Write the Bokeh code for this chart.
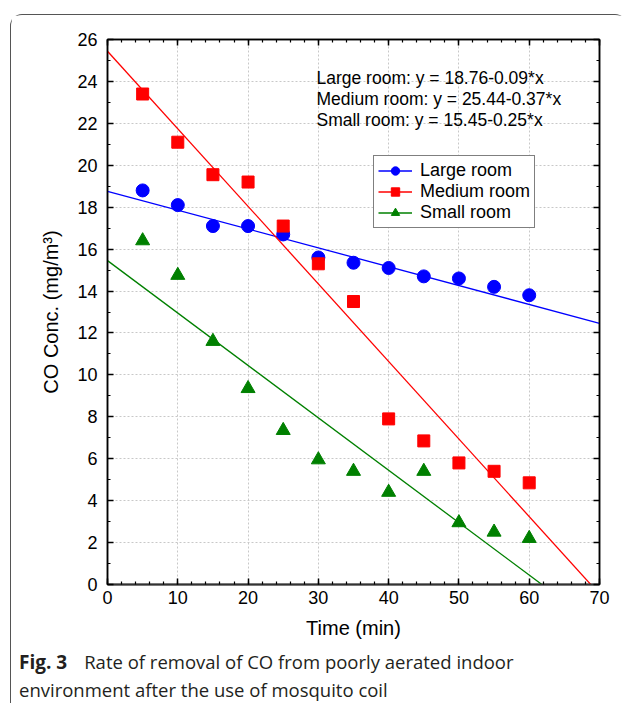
from bokeh.plotting import figure
from bokeh.layouts import column
from bokeh.models import (Range1d, LinearAxis, SingleIntervalTicker, Legend, LegendItem, Label, Div)
from bokeh.embed import file_html
from bokeh.resources import INLINE

# ---- data ----
time_min = [5, 10, 15, 20, 25, 30, 35, 40, 45, 50, 55, 60]
large_room = [18.8, 18.1, 17.1, 17.1, 16.7, 15.6, 15.35, 15.1, 14.7, 14.6, 14.2, 13.8]
medium_room = [23.4, 21.1, 19.55, 19.2, 17.1, 15.3, 13.5, 7.9, 6.85, 5.8, 5.4, 4.85]
small_room = [16.4, 14.75, 11.6, 9.35, 7.35, 5.95, 5.4, 4.4, 5.4, 2.95, 2.5, 2.2]

series_names = ["Large room", "Medium room", "Small room"]
intercepts = [18.76, 25.44, 15.45]
slopes = [-0.09, -0.37, -0.25]
equation_texts = ["Large room: y = 18.76-0.09*x",
                  "Medium room: y = 25.44-0.37*x",
                  "Small room: y = 15.45-0.25*x"]
fit_x = [0, 70]
x_ticks_step = 10
y_ticks_step = 2

caption_bold = "Fig. 3"
caption_line1 = "Rate of removal of CO from poorly aerated indoor"
caption_line2 = "environment after the use of mosquito coil"

colors = ["#0000ff", "#ff0000", "#008000"]
markers = ["circle", "square", "triangle"]
sizes = [13, 12, 14]

FONT = "Liberation Sans"
W = 616

p = figure(width=W, height=633, output_backend="svg", toolbar_location=None,
           x_range=Range1d(0, 70), y_range=Range1d(0, 26),
           min_border_left=96, min_border_right=28, min_border_top=24, min_border_bottom=64)
p.background_fill_color = "white"
p.border_fill_color = "white"
p.outline_line_color = "black"
p.outline_line_width = 1.5

xt = SingleIntervalTicker(interval=x_ticks_step, num_minor_ticks=5)
yt = SingleIntervalTicker(interval=y_ticks_step, num_minor_ticks=2)
p.xaxis.ticker = xt
p.yaxis.ticker = yt
p.xgrid.ticker = xt
p.ygrid.ticker = yt

for ax in (p.xaxis[0], p.yaxis[0]):
    ax.major_tick_in = 6
    ax.major_tick_out = 0
    ax.minor_tick_in = 3
    ax.minor_tick_out = 0
    ax.axis_line_color = "black"
    ax.axis_line_width = 1.5
    ax.major_tick_line_color = "black"
    ax.major_tick_line_width = 1.5
    ax.minor_tick_line_color = "black"
    ax.minor_tick_line_width = 1.2
    ax.major_label_text_font = FONT
    ax.major_label_text_font_size = "18px"
    ax.major_label_text_color = "black"
    ax.axis_label_text_font = FONT
    ax.axis_label_text_font_size = "20px"
    ax.axis_label_text_font_style = "normal"
    ax.axis_label_text_color = "black"

p.xaxis.axis_label = "Time (min)"
p.yaxis.axis_label = "CO Conc. (mg/m³)"
p.xaxis.major_label_standoff = 6
p.yaxis.major_label_standoff = 10
p.xaxis.axis_label_standoff = 10
p.yaxis.axis_label_standoff = 12
p.xaxis.axis_line_color = "#333333"
p.xaxis.axis_line_width = 2

for loc, ticker in (("above", SingleIntervalTicker(interval=x_ticks_step, num_minor_ticks=5)),
                    ("right", SingleIntervalTicker(interval=y_ticks_step, num_minor_ticks=2))):
    ax = LinearAxis(ticker=ticker, major_label_text_font_size="1px",
                    major_label_text_color=None,
                    major_tick_in=6, major_tick_out=0, minor_tick_in=3, minor_tick_out=0,
                    axis_line_color="black", axis_line_width=1.5,
                    major_tick_line_width=1.5, minor_tick_line_width=1.2,
                    major_label_standoff=0)
    p.add_layout(ax, loc)

for g in (p.xgrid[0], p.ygrid[0]):
    g.grid_line_color = "#c8c8c8"
    g.grid_line_dash = "2 2"
    g.grid_line_width = 1

items = []
ys = [large_room, medium_room, small_room]
for i in range(3):
    fy = [intercepts[i] + slopes[i] * xv for xv in fit_x]
    ln = p.line(fit_x, fy, line_color=colors[i], line_width=1.3)
    sc = p.scatter(time_min, ys[i], marker=markers[i], size=sizes[i],
                   fill_color=colors[i], line_color=colors[i])
    items.append(LegendItem(label=series_names[i], renderers=[ln, sc]))

legend = Legend(items=items, location=(266, 356), border_line_color="black",
                border_line_width=1.5, background_fill_color="white", background_fill_alpha=1,
                label_text_font=FONT, label_text_font_size="18px", label_text_color="black",
                glyph_width=34, glyph_height=21, label_height=21, label_standoff=8,
                spacing=0, padding=4, margin=0)
p.add_layout(legend, "center")

for i, t in enumerate(equation_texts):
    p.add_layout(Label(x=209, y=507 - 21 * i, x_units="screen", y_units="screen", text=t,
                       text_font=FONT, text_font_size="17.5px", text_color="black",
                       text_baseline="alphabetic"))

# caption
cap_html = (
    '<div style="font-family:\'Open Sans\',sans-serif;font-size:18.5px;color:#231f20;'
    'line-height:27px;padding:0 0 0 8px;white-space:nowrap;">'
    '<span style="font-weight:bold;font-size:19px;margin-right:17px;">' + caption_bold + '</span>'
    + caption_line1 + '<br>' + caption_line2 + '</div>'
)
cap = Div(text=cap_html, width=W, height=55, margin=0)

layout = column(p, cap, spacing=0, margin=(14, 0, 0, 10),
                styles={"border-left": "1.5px solid #555555",
                        "border-top": "1.5px solid #555555",
                        "border-top-left-radius": "12px",
                        "border-top-right-radius": "12px"})

open("out.html", "w").write(file_html(layout, INLINE))
